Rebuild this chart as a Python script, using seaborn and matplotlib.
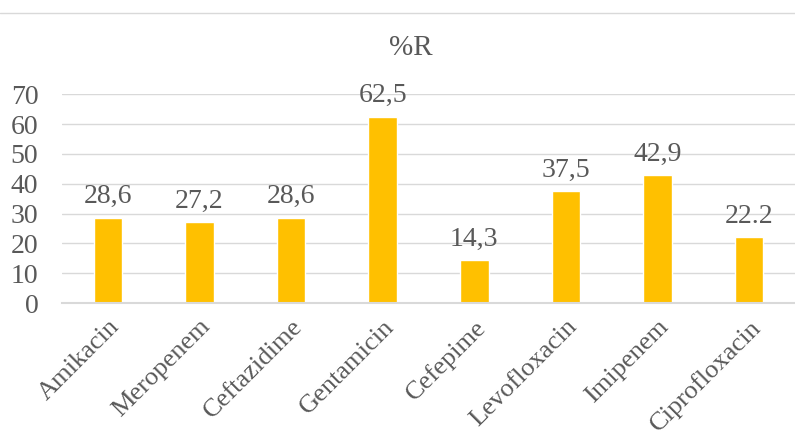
import matplotlib
matplotlib.use("Agg")
import matplotlib.pyplot as plt
import seaborn as sns
import pandas as pd
from matplotlib.lines import Line2D

drugs = ["Amikacin", "Meropenem", "Ceftazidime", "Gentamicin",
         "Cefepime", "Levofloxacin", "Imipenem", "Ciprofloxacin"]
resist = [28.6, 27.2, 28.6, 62.5, 14.3, 37.5, 42.9, 22.2]
# labels as printed in the source (last one uses a dot)
value_text = ["28,6", "27,2", "28,6", "62,5", "14,3", "37,5", "42,9", "22.2"]

sns.set_theme(style="white")
plt.rcParams["font.family"] = ["Liberation Serif", "DejaVu Serif"]
grey = "#595959"

df = pd.DataFrame({"drug": drugs, "R": resist})

fig = plt.figure(figsize=(7.95, 4.38), dpi=100)
ax = fig.add_axes([0.078, 0.308, 0.922, 0.477])
sns.barplot(data=df, x="drug", y="R", color="#FFC000", saturation=1,
            width=0.31, ax=ax)

ax.set_ylim(0, 70)
ax.set_yticks(range(0, 71, 10))
ax.yaxis.grid(True, color="#D9D9D9", linewidth=1)
ax.set_axisbelow(True)
for s in ["top", "right", "left"]:
    ax.spines[s].set_visible(False)
ax.spines["bottom"].set_color("#D9D9D9")
ax.spines["bottom"].set_linewidth(1.5)
ax.tick_params(axis="both", length=0, colors=grey)
ax.tick_params(axis="y", pad=17, labelsize=20)
ax.tick_params(axis="x", pad=9, labelsize=19)
ax.set_xlabel("")
ax.set_ylabel("")
plt.setp(ax.get_xticklabels(), rotation=45, ha="right", rotation_mode="anchor")

for i, (v, t) in enumerate(zip(resist, value_text)):
    ax.annotate(t, (i, v), xytext=(0, 6), textcoords="offset points",
                ha="center", va="bottom", fontsize=20, color=grey)

fig.text(0.517, 0.89, "%R", ha="center", va="center", fontsize=21, color=grey)
fig.add_artist(Line2D([0.0, 1.0], [0.97, 0.97], color="#D9D9D9", linewidth=1,
                      transform=fig.transFigure))

fig.savefig("out.png", dpi=100)
